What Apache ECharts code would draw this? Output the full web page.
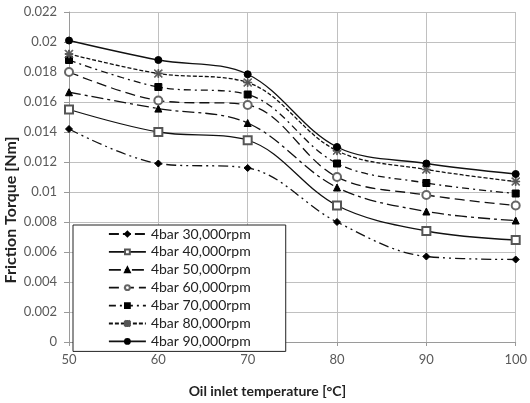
<!DOCTYPE html>
<html><head><meta charset="utf-8">
<script src="https://cdn.jsdelivr.net/npm/echarts@6/dist/echarts.min.js"></script>
<style>html,body{margin:0;padding:0;background:#fff}#c{width:530px;height:403px}</style>
</head><body><div id="c"></div>
<script>
var temps = [50, 60, 70, 80, 90, 100];
var rpm30 = [0.0142, 0.0119, 0.0116, 0.0080, 0.0057, 0.0055];
var rpm40 = [0.0155, 0.0140, 0.01345, 0.0091, 0.0074, 0.0068];
var rpm50 = [0.01665, 0.01556, 0.0146, 0.0103, 0.0087, 0.0081];
var rpm60 = [0.0180, 0.0161, 0.0158, 0.0110, 0.0098, 0.0091];
var rpm70 = [0.0188, 0.0170, 0.0165, 0.0119, 0.0106, 0.0099];
var rpm80 = [0.0192, 0.0179, 0.0173, 0.01275, 0.0115, 0.0107];
var rpm90 = [0.0201, 0.0188, 0.01785, 0.0130, 0.0119, 0.0112];
var names = ['4bar 30,000rpm','4bar 40,000rpm','4bar 50,000rpm','4bar 60,000rpm','4bar 70,000rpm','4bar 80,000rpm','4bar 90,000rpm'];
var yTicks = ['0','0.002','0.004','0.006','0.008','0.01','0.012','0.014','0.016','0.018','0.02','0.022'];
var yTitle = 'Friction Torque [Nm]';
var xTitle = 'Oil inlet temperature [\u00B0C]';

var star = 'path://M0,4.5h10v1h-10z M4.5,0h1v10h-1z M0.7,0L10,9.3L9.3,10L0,0.7z M9.3,0L10,0.7L0.7,10L0,9.3z';
function pts(arr){ return temps.map(function(t,i){ return [t, arr[i]]; }); }
var defs = [
  {d: rpm30, sym: 'diamond', size: 7, dash: [10,4,2,4,2,4]},
  {d: rpm40, sym: 'emptyRect', size: 8, dash: 'solid', sc:'#555'},
  {d: rpm50, sym: 'triangle', size: 7, dash: [12,4,3,4]},
  {d: rpm60, sym: 'emptyCircle', size: 8, dash: [10,5], sc:'#666'},
  {d: rpm70, sym: 'rect', size: 7, dash: [7,4,2,4]},
  {d: rpm80, sym: star, size: 8, dash: [4,2], sc:'#555'},
  {d: rpm90, sym: 'circle', size: 7, dash: 'solid'}
];
var series = defs.map(function(s, i){
  return {
    name: names[i], type: 'line', smooth: 0.35, data: pts(s.d),
    symbol: s.sym, symbolSize: s.size, showAllSymbol: true,
    lineStyle: {color: '#111', width: 1.3, type: s.dash},
    itemStyle: {color: s.sc || '#000', borderColor: s.sc || '#000', borderWidth: 1},
    emphasis: {disabled: true}, animation: false, z: 3 + i
  };
});
var chart = echarts.init(document.getElementById('c'), null, {renderer: 'canvas'});
chart.setOption({
  animation: false,
  grid: {left: 69, right: 12, top: 12, bottom: 47},
  graphic: [{
    type: 'text', x: 11, y: 210, rotation: Math.PI / 2,
    style: {text: yTitle, fontFamily: 'Lato', fontWeight: 'bold', fontSize: 16, fill: '#222',
      align: 'center', verticalAlign: 'middle'}
  }],
  xAxis: {
    type: 'value', min: 50, max: 100, interval: 10,
    name: xTitle, nameLocation: 'middle', nameGap: 42,
    nameTextStyle: {fontFamily: 'Lato', fontWeight: 'bold', fontSize: 14, color: '#222', padding: [0, 50, 0, 0]},
    axisLine: {lineStyle: {color: '#9a9a9a'}},
    axisTick: {show: true, length: 4, lineStyle: {color: '#9a9a9a'}},
    axisLabel: {fontFamily: 'Lato', fontSize: 13, color: '#595959', margin: 11},
    splitLine: {show: true, lineStyle: {color: '#c0c0c0', width: 1}}
  },
  yAxis: {
    type: 'value', min: 0, max: 0.022, interval: 0.002,
    axisLine: {show: true, lineStyle: {color: '#9a9a9a'}},
    axisTick: {show: true, length: 5, lineStyle: {color: '#9a9a9a'}},
    axisLabel: {fontFamily: 'Lato', fontSize: 13, color: '#595959', margin: 12,
      formatter: function(v){ return yTicks[Math.round(v / 0.002)]; }},
    splitLine: {show: true, lineStyle: {color: '#c0c0c0', width: 1}}
  },
  legend: {
    orient: 'vertical', left: 73, top: 225, data: names,
    itemWidth: 37, itemHeight: 6, itemGap: 3.9, align: 'left',
    padding: [2, 35, 3, 35],
    backgroundColor: '#fff', borderColor: '#222', borderWidth: 1,
    lineStyle: {width: 1.8},
    textStyle: {fontFamily: 'Lato', fontSize: 14, color: '#222', padding: [0,0,0,0]},
    inactiveColor: '#000', selectedMode: false
  },
  series: series
});
</script></body></html>
